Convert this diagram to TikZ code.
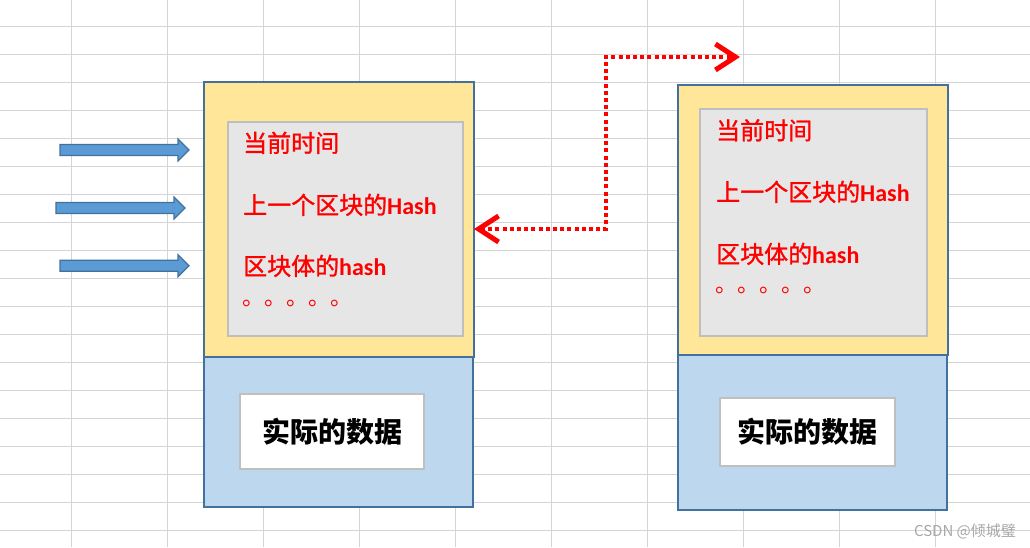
\documentclass[tikz,border=0pt]{standalone}
\usepackage{fontspec}
\setmainfont{Carlito}
\newfontfamily\latb{Carlito Bold}
\newfontfamily\cjk{Noto Sans CJK SC}
\newfontfamily\cjkm{Noto Sans CJK SC}[FakeBold=1.2]
\usetikzlibrary{arrows.meta}
\definecolor{gridc}{HTML}{D4D4D4}
\definecolor{hdrfill}{HTML}{FFE699}
\definecolor{bodyfill}{HTML}{BDD7EE}
\definecolor{edgec}{HTML}{41719C}
\definecolor{innerfill}{HTML}{E6E6E6}
\definecolor{innerline}{HTML}{BFBFBF}
\definecolor{arrowfill}{HTML}{5B9BD5}
\definecolor{wmark}{HTML}{A8A8A8}
\newcommand\blkarrow[3]{%
  \filldraw[blkarr] (#1,#3-5.5) -- (#2-11,#3-5.5) -- (#2-11,#3-11) -- (#2,#3)
    -- (#2-11,#3+11) -- (#2-11,#3+5.5) -- (#1,#3+5.5) -- cycle;}
\begin{document}
\begin{tikzpicture}[x=1pt,y=-1pt,
  gridline/.style={draw=gridc,line width=1pt},
  hdr/.style={draw=edgec,fill=hdrfill,line width=2pt,anchor=north west,inner sep=0pt,outer sep=0pt},
  body/.style={draw=edgec,fill=bodyfill,line width=2pt,anchor=north west,inner sep=0pt,outer sep=0pt},
  inner/.style={draw=innerline,fill=innerfill,line width=2pt,anchor=north west,inner sep=0pt,outer sep=0pt},
  databox/.style={draw=innerline,fill=white,line width=2pt,anchor=north west,inner sep=0pt,outer sep=0pt},
  redtxt/.style={text=red,anchor=base west,inner sep=0pt,font=\fontsize{24}{28}\selectfont},
  dots/.style={text=red,anchor=base west,inner sep=0pt,font=\cjk\fontsize{22}{26}\selectfont},
  datatxt/.style={text=black,inner sep=0pt,font=\cjk\bfseries\fontsize{28}{32}\selectfont},
  blkarr/.style={fill=arrowfill,draw=edgec,line width=1.2pt},
  reddot/.style={draw=red,line width=4.5pt,dash pattern=on 4pt off 3.2pt,
    {Straight Barb[length=20pt,width=26pt,line width=5pt]}-{Straight Barb[length=20pt,width=26pt,line width=5pt]}}
]
\useasboundingbox (0,0) rectangle (1030,547);
\fill[white] (0,0) rectangle (1030,547);
% grid
\foreach \x in {71.3,167.3,263.3,359.3,455.3,551.3,647.3,743.3,839.3,935.3}
  \draw[gridline] (\x,0) -- (\x,547);
\foreach \k in {0,...,18}{
  \pgfmathsetmacro\yy{26.3+28*\k}
  \draw[gridline] (0,\yy) -- (1030,\yy);}
% left block
\node[body,minimum width=269pt,minimum height=150pt] (b1) at (204,357) {};
\node[hdr,minimum width=270pt,minimum height=275pt] (h1) at (204,82) {};
\node[inner,minimum width=235pt,minimum height=214pt] (i1) at (228,122) {};
\node[databox,minimum width=184pt,minimum height=75pt] (d1) at (240,394) {};
\node[datatxt] (t1e) at (d1.center) {实际的数据};
\node[redtxt] (t1a) at (243,152) {\cjkm 当前时间};
\node[redtxt] (t1b) at (243,214) {{\cjkm 上一个区块的}{\latb Hash}};
\node[redtxt] (t1c) at (243,275) {{\cjkm 区块体的}{\latb hash}};
\node[dots] (t1d) at (242,305) {。。。。。};
% right block
\node[body,minimum width=269pt,minimum height=155pt] (b2) at (678,355) {};
\node[hdr,minimum width=270pt,minimum height=270pt] (h2) at (678,85) {};
\node[inner,minimum width=227pt,minimum height=227pt] (i2) at (700,109) {};
\node[databox,minimum width=175pt,minimum height=68pt] (d2) at (720,398) {};
\node[datatxt] (t2e) at (d2.center) {实际的数据};
\node[redtxt] (t2a) at (716,139.5) {\cjkm 当前时间};
\node[redtxt] (t2b) at (716,201) {{\cjkm 上一个区块的}{\latb Hash}};
\node[redtxt] (t2c) at (716,263) {{\cjkm 区块体的}{\latb hash}};
\node[dots] (t2d) at (715,292) {。。。。。};
% input arrows
\blkarrow{60}{189}{150}
\blkarrow{56}{185}{208}
\blkarrow{60}{189}{265.7}
% dotted link
\coordinate (bend) at (606,57);
\coordinate (rend) at (740,57);
\draw[reddot] ([yshift=-9.5pt]h1.east) -| (bend) -- (rend);
% watermark
\node[text=wmark,inner sep=0pt,font=\cjk\fontsize{15}{18}\selectfont] (wm) at (965,531) {CSDN @倾城璧};
\end{tikzpicture}
\end{document}
